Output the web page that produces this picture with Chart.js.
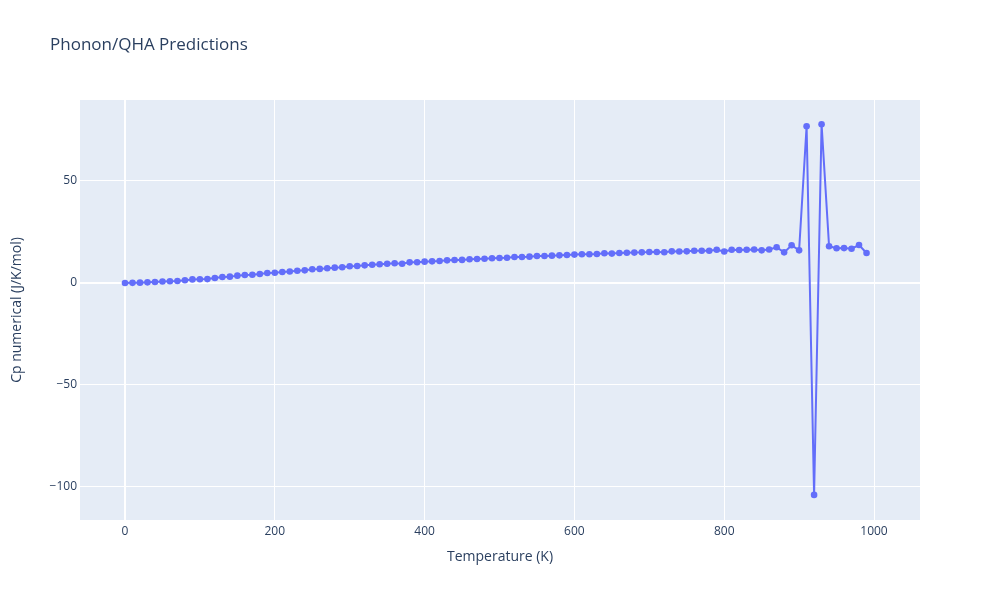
<!DOCTYPE html>
<html>
<head>
<meta charset="utf-8">
<script src="https://cdn.jsdelivr.net/npm/chart.js@4/dist/chart.umd.min.js"></script>
<style>
html,body{margin:0;padding:0;background:#fff;}
#wrap{width:1000px;height:600px;position:relative;}
</style>
</head>
<body>
<div id="wrap"><canvas id="c" width="1000" height="600"></canvas></div>
<script>
const temperatures = [0,10,20,30,40,50,60,70,80,90,100,110,120,130,140,150,160,170,180,190,200,210,220,230,240,250,260,270,280,290,300,310,320,330,340,350,360,370,380,390,400,410,420,430,440,450,460,470,480,490,500,510,520,530,540,550,560,570,580,590,600,610,620,630,640,650,660,670,680,690,700,710,720,730,740,750,760,770,780,790,800,810,820,830,840,850,860,870,880,890,900,910,920,930,940,950,960,970,980,990];
const cpNumerical = [0,0.05,0.15,0.3,0.5,0.7,0.85,1.0,1.3,1.75,1.8,1.9,2.45,2.9,3.1,3.6,3.9,4.0,4.4,4.9,5.0,5.4,5.6,6.0,6.2,6.7,6.9,7.2,7.5,7.7,8.2,8.3,8.65,8.9,9.15,9.45,9.65,9.4,10.1,10.15,10.45,10.6,10.8,11.1,11.25,11.3,11.6,11.75,11.9,12.1,12.25,12.4,12.7,12.75,12.9,13.2,13.25,13.4,13.55,13.7,13.9,14.05,14.05,14.2,14.55,14.4,14.7,14.85,14.9,15.0,15.2,15.2,15.05,15.5,15.4,15.5,15.8,15.8,15.8,16.3,15.4,16.3,16.2,16.3,16.4,16.0,16.4,17.5,15.0,18.5,16.0,76.8,-103.9,77.8,18.0,17.0,17.1,16.8,18.6,14.7];
const xTicks = [0,200,400,600,800,1000];
const yTicks = [-100,-50,0,50];
const chartTitle = "Phonon/QHA Predictions";
const xTitle = "Temperature (K)";
const yTitle = "Cp numerical (J/K/mol)";

const FONT = "'Open Sans', verdana, arial, sans-serif";
const TXT = "#2a3f5f";

const bgPlugin = {
  id: 'bg',
  beforeDraw(chart) {
    const {ctx, chartArea: a} = chart;
    ctx.save();
    ctx.fillStyle = '#E5ECF6';
    ctx.fillRect(a.left, a.top, a.right - a.left, a.bottom - a.top);
    ctx.restore();
  },
  afterDraw(chart) {
    const ctx = chart.ctx;
    ctx.save();
    ctx.fillStyle = TXT;
    ctx.font = "17px " + FONT;
    ctx.textBaseline = 'middle';
    ctx.textAlign = 'left';
    ctx.fillText(chartTitle, 50, 45);
    ctx.restore();
  }
};

const fmt = v => (v < 0 ? '\u2212' + Math.abs(v) : String(v));

new Chart(document.getElementById('c'), {
  type: 'line',
  data: {
    datasets: [{
      data: temperatures.map((t, i) => ({x: t, y: cpNumerical[i]})),
      borderColor: '#636efa',
      backgroundColor: '#636efa',
      borderWidth: 2,
      pointRadius: 3.3,
      pointBorderWidth: 0,
      pointBackgroundColor: '#636efa',
      tension: 0,
      fill: false
    }]
  },
  options: {
    responsive: false,
    animation: false,
    devicePixelRatio: 1,
    layout: {padding: {top: 100, right: 80, left: 0, bottom: 0}},
    plugins: {legend: {display: false}, tooltip: {enabled: false}, title: {display: false}},
    scales: {
      x: {
        type: 'linear',
        min: -60.08,
        max: 1061.4,
        afterFit(s) { s.height = 80; },
        afterBuildTicks(s) { s.ticks = xTicks.map(v => ({value: v})); },
        border: {display: false},
        grid: {
          color: '#ffffff',
          lineWidth: c => (c.tick && c.tick.value === 0 ? 2 : 1),
          drawTicks: false
        },
        ticks: {
          padding: 4,
          color: TXT,
          font: {family: FONT, size: 12},
          maxRotation: 0,
          callback: v => fmt(v)
        },
        title: {
          display: true,
          text: xTitle,
          color: TXT,
          font: {family: FONT, size: 14},
          padding: {top: 0, bottom: 34.6}
        }
      },
      y: {
        type: 'linear',
        min: -116.2,
        max: 89.7,
        afterFit(s) { s.width = 80; },
        afterBuildTicks(s) { s.ticks = yTicks.map(v => ({value: v})); },
        border: {display: false},
        grid: {
          color: '#ffffff',
          lineWidth: c => (c.tick && c.tick.value === 0 ? 2 : 1),
          drawTicks: false
        },
        ticks: {
          padding: 3,
          color: TXT,
          font: {family: FONT, size: 12},
          callback: v => fmt(v)
        },
        title: {
          display: true,
          text: yTitle,
          color: TXT,
          font: {family: FONT, size: 14},
          padding: {top: 8.6, bottom: 0}
        }
      }
    }
  },
  plugins: [bgPlugin]
});
</script>
</body>
</html>
